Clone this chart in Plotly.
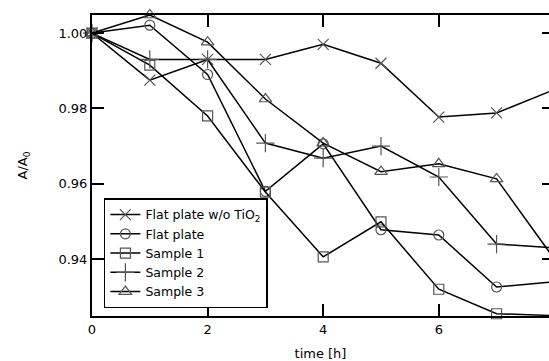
import plotly.graph_objects as go

time_h = [0, 1, 2, 3, 4, 5, 6, 7, 8]
flat_wo_tio2 = [1.000, 0.9875, 0.993, 0.993, 0.997, 0.992, 0.9777, 0.9788, 0.985]
flat_plate = [1.000, 1.0021, 0.989, 0.958, 0.9706, 0.9478, 0.9464, 0.9326, 0.934]
sample1 = [1.000, 0.9915, 0.978, 0.9578, 0.9406, 0.9499, 0.932, 0.9255, 0.925]
sample2 = [1.000, 0.993, 0.993, 0.9708, 0.9668, 0.970, 0.9618, 0.944, 0.943]
sample3 = [1.000, 1.0048, 0.9976, 0.9825, 0.9708, 0.9632, 0.9653, 0.9613, 0.940]

series_names = ["Flat plate w/o TiO<sub>2</sub>", "Flat plate", "Sample 1", "Sample 2", "Sample 3"]
series_values = [flat_wo_tio2, flat_plate, sample1, sample2, sample3]
symbols = ["x-thin-open", "circle-open", "square-open", "cross-thin-open", "triangle-up-open"]
sizes = [11, 10, 10, 13, 11]

y_ticks = [0.94, 0.96, 0.98, 1.00]
y_tick_text = ["0.94", "0.96", "0.98", "1.00"]
x_ticks = [0, 2, 4, 6, 8]

FONT = "DejaVu Sans, Liberation Sans, sans-serif"

fig = go.Figure()
for name, vals, sym, sz in zip(series_names, series_values, symbols, sizes):
    fig.add_trace(go.Scatter(
        x=time_h, y=vals, name=name, mode="lines+markers",
        line=dict(color="black", width=1.5),
        marker=dict(symbol=sym, size=sz, color="#555555",
                    line=dict(color="#555555", width=1.2)),
        cliponaxis=False,
    ))

# dummy trace for the right-side mirrored ticks
fig.add_trace(go.Scatter(x=[None], y=[None], yaxis="y2", showlegend=False, hoverinfo="skip"))

fig.update_layout(
    width=549, height=361,
    margin=dict(l=92, r=0, t=15, b=45),
    paper_bgcolor="white", plot_bgcolor="white",
    font=dict(family=FONT, size=13, color="black"),
    showlegend=True,
    legend=dict(
        x=0.026, y=0.025, xanchor="left", yanchor="bottom",
        bgcolor="white", bordercolor="black", borderwidth=1.5,
        font=dict(family=FONT, size=12.5, color="black"),
        tracegroupgap=0, itemwidth=30,
    ),
    xaxis=dict(
        range=[0, 7.907], tickvals=x_ticks, ticktext=[str(v) for v in x_ticks],
        ticks="inside", ticklen=12, tickwidth=1.5, tickcolor="black",
        showline=True, linecolor="black", linewidth=2, mirror="ticks",
        showgrid=False, zeroline=False,
        tickfont=dict(family=FONT, size=13),
        title=dict(text="time [h]", standoff=13, font=dict(family=FONT, size=13)),
    ),
    yaxis=dict(
        range=[0.9249, 1.0048], tickvals=y_ticks, ticktext=y_tick_text,
        ticks="inside", ticklen=12, tickwidth=1.5, tickcolor="black",
        showline=True, linecolor="black", linewidth=2,
        showgrid=False, zeroline=False,
        tickfont=dict(family=FONT, size=13),
        title=dict(text="A/A<sub>0</sub>", standoff=28, font=dict(family=FONT, size=13)),
    ),
    yaxis2=dict(
        overlaying="y", side="right", matches="y",
        tickvals=y_ticks, ticks="inside", ticklen=7, tickwidth=1.5, tickcolor="black",
        showticklabels=False, showline=False, showgrid=False, zeroline=False,
    ),
)

fig.write_html("out.html")
